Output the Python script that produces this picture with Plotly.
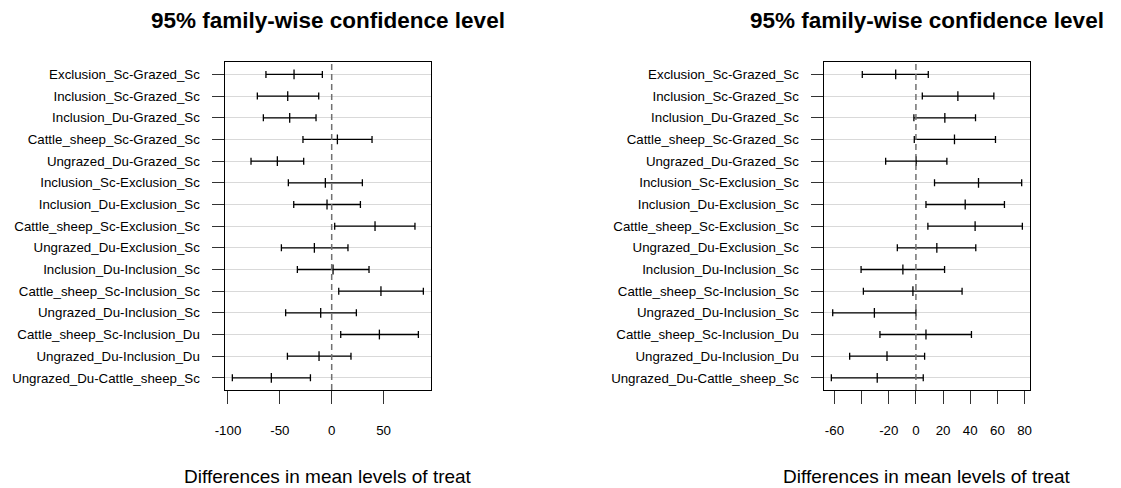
import plotly.graph_objects as go

# Pairwise comparisons of treatment levels (Tukey HSD), listed top to bottom
comparisons = [
    "Exclusion_Sc-Grazed_Sc",
    "Inclusion_Sc-Grazed_Sc",
    "Inclusion_Du-Grazed_Sc",
    "Cattle_sheep_Sc-Grazed_Sc",
    "Ungrazed_Du-Grazed_Sc",
    "Inclusion_Sc-Exclusion_Sc",
    "Inclusion_Du-Exclusion_Sc",
    "Cattle_sheep_Sc-Exclusion_Sc",
    "Ungrazed_Du-Exclusion_Sc",
    "Inclusion_Du-Inclusion_Sc",
    "Cattle_sheep_Sc-Inclusion_Sc",
    "Ungrazed_Du-Inclusion_Sc",
    "Cattle_sheep_Sc-Inclusion_Du",
    "Ungrazed_Du-Inclusion_Du",
    "Ungrazed_Du-Cattle_sheep_Sc",
]

# Left panel: difference, lower and upper bounds
left_diff = [-36.3, -42.4, -40.5, 5.5, -52.4, -6.1, -4.5, 41.8, -16.7, 1.3, 47.5, -10.6, 46.0, -12.2, -58.2]
left_lwr = [-63.4, -71.7, -65.9, -27.7, -77.8, -41.8, -36.6, 2.9, -48.5, -33.1, 6.8, -44.4, 8.7, -42.7, -95.8]
left_upr = [-9.0, -12.5, -15.1, 38.9, -27.0, 29.6, 27.7, 80.3, 15.7, 36.0, 88.4, 23.8, 83.6, 18.6, -20.5]

# Right panel: difference, lower and upper bounds
right_diff = [-14.9, 30.9, 21.3, 28.4, 0.2, 46.1, 36.3, 43.6, 15.4, -9.6, -2.2, -30.6, 7.4, -21.3, -28.5]
right_lwr = [-39.5, 4.7, -1.5, -1.2, -22.3, 13.7, 7.4, 8.8, -13.7, -40.4, -38.7, -61.3, -26.5, -48.8, -62.3]
right_upr = [9.1, 57.4, 43.9, 58.6, 22.8, 77.9, 65.2, 78.4, 44.1, 21.1, 34.0, 0.0, 40.9, 6.4, 5.4]

left_ticks = [-100, -50, 0, 50]
left_tick_text = ["-100", "-50", "0", "50"]
right_ticks = [-60, -40, -20, 0, 20, 40, 60, 80]
right_tick_text = ["-60", "", "-20", "0", "20", "40", "60", "80"]

title_text = "95% family-wise confidence level"
xlab_text = "Differences in mean levels of treat"

FONT = "Liberation Sans, Arial, Helvetica, sans-serif"
W, H = 1121, 488

n = len(comparisons)
rows = [n - i for i in range(n)]


def padded(lo, hi, frac=0.04):
    span = hi - lo
    return [lo - frac * span, hi + frac * span]


fig = go.Figure()

panels = [
    ("x", "y", left_diff, left_lwr, left_upr, left_ticks, left_tick_text, [224.7, 431.0]),
    ("x2", "y2", right_diff, right_lwr, right_upr, right_ticks, right_tick_text, [823.7, 1030.0]),
]

plot_top, plot_bottom = 62.3, 390.0
ydom = [1 - plot_bottom / H, 1 - plot_top / H]

for k, (xa, ya, diff, lwr, upr, tv, tt, xpx) in enumerate(panels):
    fig.add_trace(go.Scatter(
        x=diff, y=rows, xaxis=xa, yaxis=ya, mode="markers",
        marker=dict(symbol="line-ns", size=7, color="black",
                    line=dict(color="black", width=1.3)),
        error_x=dict(type="data", symmetric=False,
                     array=[u - d for u, d in zip(upr, diff)],
                     arrayminus=[d - l for d, l in zip(diff, lwr)],
                     color="black", thickness=1.3, width=3.5),
        hoverinfo="skip", showlegend=False,
    ))

    suffix = "" if k == 0 else "2"
    xdom = [xpx[0] / W, xpx[1] / W]
    fig.update_layout(**{
        "xaxis" + suffix: dict(
            domain=xdom, anchor=ya, range=padded(min(lwr), max(upr)),
            automargin=False,
            tickvals=tv, ticktext=tt, showgrid=False, zeroline=False,
            showline=True, linecolor="black", linewidth=1.3, mirror=True,
            ticks="outside", ticklen=13, tickwidth=1.1, tickcolor="#333333",
            ticklabelstandoff=15,
            tickfont=dict(family=FONT, size=13.3, color="black"),
        ),
        "yaxis" + suffix: dict(
            domain=ydom, anchor=xa, range=padded(1, n),
            automargin=False,
            tickvals=rows, ticktext=comparisons, showgrid=True,
            gridcolor="#d9d9d9", gridwidth=1, zeroline=False,
            showline=True, linecolor="black", linewidth=1.3, mirror=True,
            ticks="outside", ticklen=12, tickwidth=1.1, tickcolor="#333333",
            ticklabelstandoff=9,
            tickfont=dict(family=FONT, size=13.3, color="black"),
        ),
    })

    # reference line at zero difference
    fig.add_shape(type="line", xref=xa, yref=ya + " domain", x0=0, x1=0, y0=0, y1=1,
                  line=dict(color="#707070", width=1.5, dash="6px,4px"), layer="above")

    cx = (xpx[0] + xpx[1]) / 2 / W
    fig.add_annotation(text="<b>" + title_text + "</b>", xref="paper", yref="paper",
                       x=cx, y=1 - 20 / H, xanchor="center", yanchor="middle",
                       showarrow=False, font=dict(family=FONT, size=22.5, color="black"))
    fig.add_annotation(text=xlab_text, xref="paper", yref="paper",
                       x=cx, y=1 - 476.7 / H, xanchor="center", yanchor="middle",
                       showarrow=False, font=dict(family=FONT, size=19, color="black"))

fig.update_layout(
    width=W, height=H, margin=dict(l=0, r=0, t=0, b=0),
    paper_bgcolor="white", plot_bgcolor="white", showlegend=False,
)

fig.write_html("out.html")
